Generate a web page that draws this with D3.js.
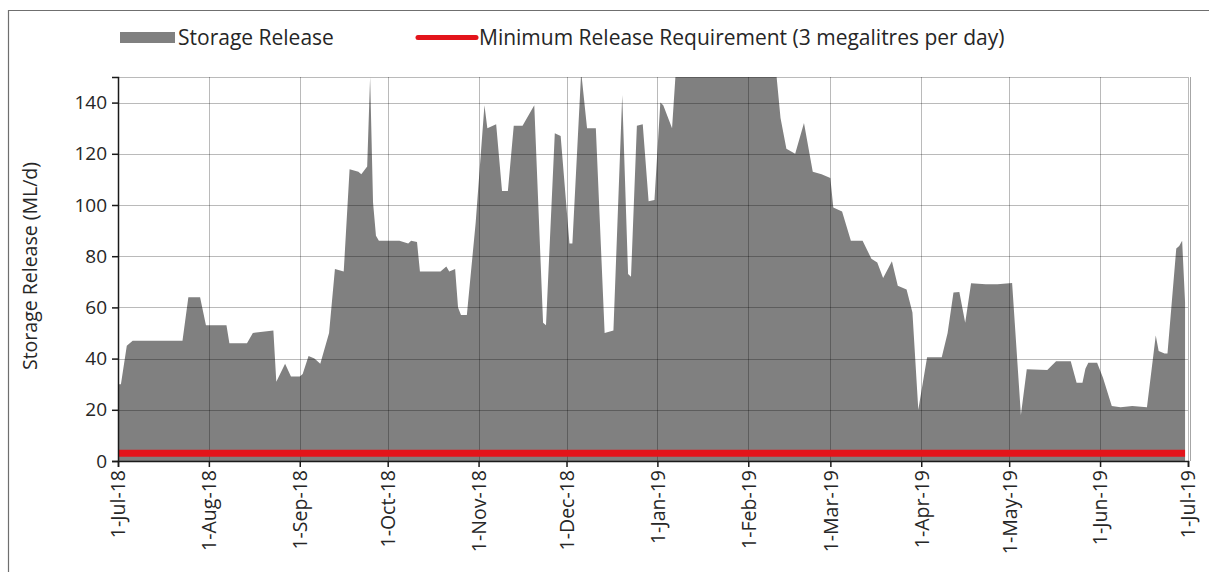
<!DOCTYPE html>
<html>
<head>
<meta charset="utf-8">
<script src="https://cdn.jsdelivr.net/npm/d3@7"></script>
<style>
  html, body { margin: 0; padding: 0; background: #fff; }
  svg { display: block; font-family: "Open Sans", sans-serif; }
</style>
</head>
<body>
<svg id="canvas" width="1209" height="572"></svg>
<script>
// daily storage release (ML/d), key dates only
var releaseDates = [
  '2018-07-01','2018-07-02','2018-07-04','2018-07-06','2018-07-23','2018-07-25','2018-07-29','2018-07-31',
  '2018-08-07','2018-08-08','2018-08-14','2018-08-16','2018-08-23','2018-08-24','2018-08-27','2018-08-29',
  '2018-09-01','2018-09-02','2018-09-04','2018-09-06','2018-09-08','2018-09-11','2018-09-13','2018-09-16',
  '2018-09-18','2018-09-21','2018-09-22','2018-09-24','2018-09-25','2018-09-26','2018-09-27','2018-09-28',
  '2018-10-05','2018-10-08','2018-10-09','2018-10-11','2018-10-12','2018-10-19','2018-10-21','2018-10-22',
  '2018-10-24','2018-10-25','2018-10-26','2018-10-28','2018-10-31','2018-11-03','2018-11-04','2018-11-07',
  '2018-11-09','2018-11-11','2018-11-13','2018-11-16','2018-11-20','2018-11-23','2018-11-24','2018-11-27',
  '2018-11-29','2018-12-02','2018-12-03','2018-12-06','2018-12-08','2018-12-11','2018-12-14','2018-12-17',
  '2018-12-20','2018-12-22','2018-12-23','2018-12-25','2018-12-27','2018-12-29','2018-12-31','2019-01-02',
  '2019-01-03','2019-01-06','2019-01-08','2019-01-20','2019-02-01','2019-02-10','2019-02-12','2019-02-14',
  '2019-02-17','2019-02-20','2019-02-23','2019-02-26','2019-03-01','2019-03-02','2019-03-05','2019-03-08',
  '2019-03-12','2019-03-15','2019-03-17','2019-03-19','2019-03-22','2019-03-24','2019-03-27','2019-03-29',
  '2019-03-31','2019-04-03','2019-04-08','2019-04-10','2019-04-12','2019-04-14','2019-04-16','2019-04-18',
  '2019-04-23','2019-04-27','2019-05-02','2019-05-05','2019-05-07','2019-05-14','2019-05-17','2019-05-22',
  '2019-05-24','2019-05-26','2019-05-27','2019-05-28','2019-05-31','2019-06-02','2019-06-05','2019-06-08',
  '2019-06-12','2019-06-17','2019-06-20','2019-06-21','2019-06-23','2019-06-24','2019-06-27','2019-06-28',
  '2019-06-29','2019-06-30'
];
var releaseValues = [
  30, 30, 45, 47, 47, 64, 64, 53,
  53, 46, 46, 50, 51, 31, 38, 33,
  33, 34, 41, 40, 38, 50, 75, 74,
  114, 113, 112, 115, 150, 101, 88, 86,
  86, 85, 86, 85.5, 74, 74, 76, 74,
  75, 60, 57, 57, 93, 139, 130, 131.5,
  105.5, 105.5, 131, 131, 139, 54, 53, 128,
  127, 85, 85, 152, 130, 130, 50, 51,
  143, 73, 72, 131, 131.5, 101.5, 102, 140,
  139, 130, 165, 175, 172, 158, 134, 122,
  120, 132, 113, 112, 110.5, 99, 97.5, 86,
  86, 79, 77.5, 71.5, 78, 68.5, 67, 58,
  20, 40.5, 40.5, 50, 65.8, 66, 54, 69.4,
  69, 69, 69.5, 18, 35.8, 35.5, 39, 39,
  30.6, 30.6, 36, 38.4, 38.4, 32.5, 21.5, 21,
  21.5, 21, 49, 43, 42, 42, 83, 84,
  86, 62
];
var minRequirement = 3;   // ML/d
var seriesNames = ['Storage Release', 'Minimum Release Requirement (3 megalitres per day)'];
var yTicks = [0, 20, 40, 60, 80, 100, 120, 140];
var yTitle = 'Storage Release (ML/d)';
var xStart = '2018-07-01', xEnd = '2019-07-01';

var parse = d3.timeParse('%Y-%m-%d');
var data = releaseDates.map(function (d, i) { return { date: parse(d), value: releaseValues[i] }; });

var margin = { left: 118, top: 77, right: 21, bottom: 111 };
var svg = d3.select('#canvas');
var W = +svg.attr('width'), H = +svg.attr('height');
var innerW = W - margin.left - margin.right;   // 1070
var innerH = H - margin.top - margin.bottom;   // 384

var x = d3.scaleTime().domain([parse(xStart), parse(xEnd)]).range([0, innerW]);
var y = d3.scaleLinear().domain([0, 150]).range([innerH, 0]);

// outer chart border (only left and top visible)
svg.append('path')
  .attr('d', 'M8.5,' + H + 'V10.5H' + W)
  .attr('fill', 'none').attr('stroke', '#6f6f6f').attr('stroke-width', 1.2);

// legend
var legend = svg.append('g').attr('class', 'legend');
legend.append('rect').attr('x', 120).attr('y', 32).attr('width', 55).attr('height', 11).attr('fill', '#808080');
legend.append('text').attr('x', 178).attr('y', 45).style('font-size', '21px').attr('fill', '#262626').text(seriesNames[0]);
legend.append('line').attr('x1', 418).attr('x2', 476).attr('y1', 37.5).attr('y2', 37.5)
  .attr('stroke', '#e3141b').attr('stroke-width', 5).attr('stroke-linecap', 'round');
legend.append('text').attr('x', 479).attr('y', 45).style('font-size', '21px').attr('fill', '#262626').text(seriesNames[1]);

var g = svg.append('g').attr('transform', 'translate(' + margin.left + ',' + margin.top + ')');

g.append('clipPath').attr('id', 'plotClip')
  .append('rect').attr('width', innerW).attr('height', innerH);

// storage release area
var area = d3.area()
  .x(function (d) { return x(d.date); })
  .y0(y(0))
  .y1(function (d) { return y(d.value); });
g.append('path')
  .datum(data)
  .attr('clip-path', 'url(#plotClip)')
  .attr('fill', '#808080')
  .attr('d', area);

// grid lines (drawn over the area, semi transparent)
var months = x.ticks(d3.timeMonth.every(1));
g.append('g').attr('class', 'xGrid')
  .selectAll('line').data(months).enter().append('line')
  .attr('x1', function (d) { return Math.round(x(d)) + 0.5; })
  .attr('x2', function (d) { return Math.round(x(d)) + 0.5; })
  .attr('y1', 0).attr('y2', innerH)
  .attr('stroke', 'rgba(0,0,0,0.27)');
g.append('g').attr('class', 'yGrid')
  .selectAll('line').data(yTicks.slice(1).concat([150])).enter().append('line')
  .attr('x1', 0).attr('x2', innerW)
  .attr('y1', function (d) { return Math.round(y(d)) + 0.5; })
  .attr('y2', function (d) { return Math.round(y(d)) + 0.5; })
  .attr('stroke', 'rgba(0,0,0,0.27)');
g.append('line')
  .attr('x1', innerW + 2.5).attr('x2', innerW + 2.5).attr('y1', 0).attr('y2', innerH)
  .attr('stroke', 'rgba(0,0,0,0.35)');

// minimum release requirement line
var minLine = d3.line().x(function (d) { return x(d.date); }).y(function () { return y(minRequirement); });
g.append('path')
  .datum([data[0], data[data.length - 1]])
  .attr('fill', 'none')
  .attr('stroke', '#e3141b')
  .attr('stroke-width', 7)
  .attr('d', minLine);

// axes
var yAxis = g.append('g')
  .call(d3.axisLeft(y).tickValues(yTicks).tickSize(6).tickPadding(5));
yAxis.select('.domain').attr('stroke', '#1a1a1a').attr('stroke-width', 1.5);
yAxis.selectAll('.tick line').attr('stroke', '#1a1a1a').attr('stroke-width', 1.5);
yAxis.selectAll('.tick text').style('font-size', '19px').style('font-family', '"Open Sans", sans-serif').attr('fill', '#262626');

var xAxis = g.append('g')
  .attr('transform', 'translate(0,' + innerH + ')')
  .call(d3.axisBottom(x).tickValues(months).tickFormat(d3.timeFormat('%-d-%b-%y')).tickSize(6));
xAxis.select('.domain').attr('stroke', '#1a1a1a').attr('stroke-width', 1.5);
xAxis.selectAll('.tick line').attr('stroke', '#1a1a1a').attr('stroke-width', 1.5);
xAxis.selectAll('.tick text')
  .style('font-size', '19.5px').style('font-family', '"Open Sans", sans-serif').attr('fill', '#262626')
  .attr('text-anchor', 'end')
  .attr('transform', 'rotate(-90)')
  .attr('x', -9).attr('y', 0).attr('dy', '0.35em');

// y axis title
svg.append('text')
  .attr('transform', 'translate(37,' + (margin.top + innerH / 2 - 3) + ') rotate(-90)')
  .attr('text-anchor', 'middle')
  .style('font-size', '19.5px')
  .attr('fill', '#262626')
  .text(yTitle);
</script>
</body>
</html>
